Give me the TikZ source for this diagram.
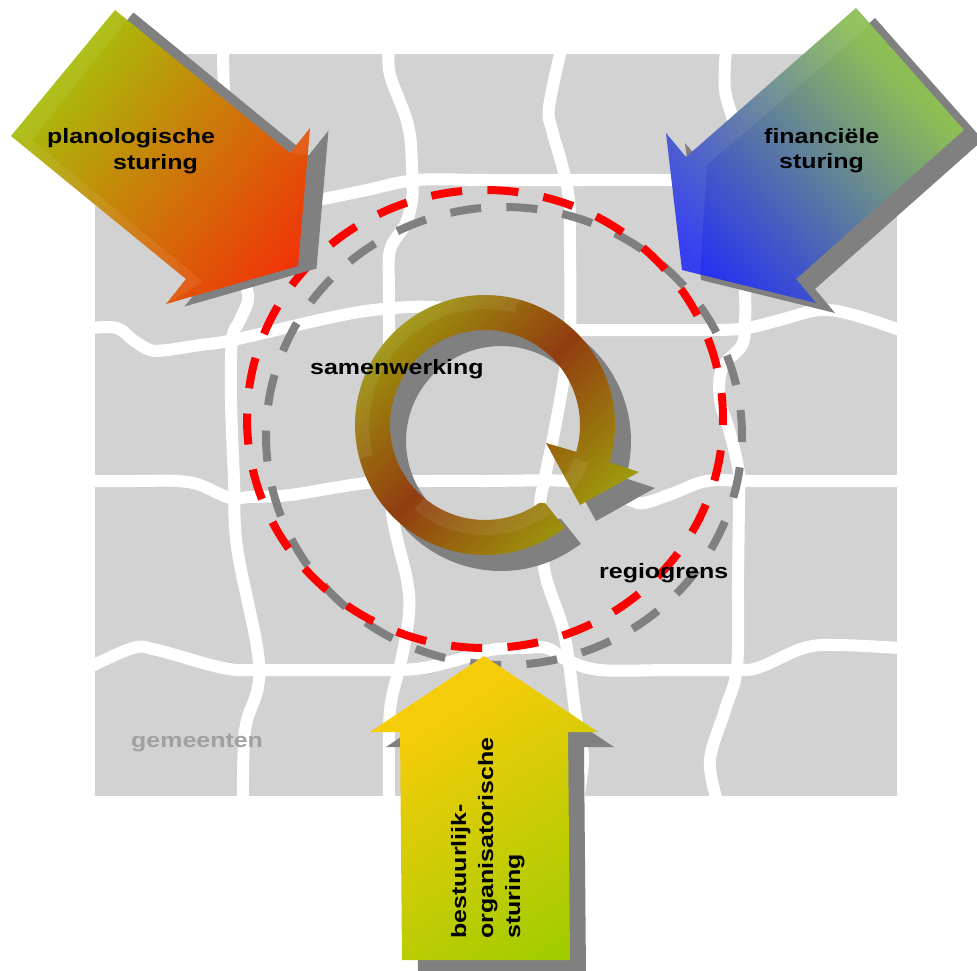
\documentclass[tikz,border=0pt]{standalone}
\usepackage{fontspec}
\setmainfont[FakeStretch=1.2]{Liberation Sans}
\definecolor{cell}{HTML}{D2D2D2}
\definecolor{shadowgray}{HTML}{808080}
\definecolor{labelgray}{HTML}{A0A0A0}
\definecolor{regionred}{HTML}{FF0000}
\definecolor{aOne}{HTML}{A8BE0A}
\definecolor{bOne}{HTML}{F23208}
\definecolor{aTwo}{HTML}{8DBE55}
\definecolor{bTwo}{HTML}{2832F0}
\definecolor{aThree}{HTML}{F5CC08}
\definecolor{bThree}{HTML}{A0CC00}
\definecolor{ringOlive}{HTML}{A0AC0C}
\definecolor{ringRust}{HTML}{923C10}
\pgfdeclareverticalshading{gradOne}{100bp}{color(0bp)=(bOne); color(37.5bp)=(bOne); color(62.5bp)=(aOne); color(100bp)=(aOne)}
\pgfdeclareverticalshading{gradTwo}{100bp}{color(0bp)=(bTwo); color(37.5bp)=(bTwo); color(62.5bp)=(aTwo); color(100bp)=(aTwo)}
\pgfdeclareverticalshading{gradThree}{100bp}{color(0bp)=(bThree); color(37.5bp)=(bThree); color(62.5bp)=(aThree); color(100bp)=(aThree)}
\pgfdeclareverticalshading{gradRing}{100bp}{color(0bp)=(ringOlive); color(37bp)=(ringOlive); color(50bp)=(ringRust); color(63bp)=(ringOlive); color(100bp)=(ringOlive)}
\tikzset{
  road/.style={draw=white,line width=12pt,line join=round},
  region/.style={line width=8pt,dash pattern=on 31pt off 25.4pt,dash phase=25pt},
  shadowshape/.style={fill=shadowgray,draw=none},
  bevel/.style={fill=white,fill opacity=.07,draw=none},
  lab/.style={font=\bfseries\fontsize{20.8}{20.8}\selectfont,inner sep=0pt,anchor=base west,text=black}
}
\def\polyOne{(115,10) -- (290,153) -- (310,128) -- (298,266) -- (166,304) -- (186,279) -- (11,136) -- cycle}
\def\polyTwo{(856,8) -- (964,130) -- (796,279) -- (816,303) -- (682,270) -- (666,133) -- (686,157) -- cycle}
\def\polyThree{(484,656) -- (598,732) -- (568,732) -- (570,960) -- (402,960) -- (400,732) -- (370,732) -- cycle}
\gdef\ringOuter{}
\gdef\ringInner{}
\begin{document}
\begin{tikzpicture}[x=1pt,y=-1pt]
\foreach \a in {55,58,...,376}{
  \pgfmathsetmacro\px{485+130*cos(\a)}
  \pgfmathsetmacro\py{425+130*sin(\a)}
  \xdef\ringOuter{\ringOuter -- (\px,\py)}
}
\foreach \a in {376,373,...,55}{
  \pgfmathsetmacro\px{485+95*cos(\a)}
  \pgfmathsetmacro\py{425+95*sin(\a)}
  \xdef\ringInner{\ringInner -- (\px,\py)}
}
\def\ringPoly{(565,528) \ringOuter -- (609,462) -- (639,472) -- (580,505) -- (546,443) -- (577,452) \ringInner -- (545,503) -- cycle}
\useasboundingbox (0,0) rectangle (977,971);
% map
\fill[cell] (95,54) rectangle (897,796);
% vertical roads
\draw[road] plot[smooth,tension=.6] coordinates {(223,50) (224,90) (228,150) (236,230) (245,280) (248,300) (240,320) (232,340) (231,400) (234,480) (237,547) (257,647) (258,687) (245,730) (243,800)};
\draw[road] plot[smooth,tension=.6] coordinates {(389,50) (390,75) (408,125) (412,167) (412,200) (405,225) (390,250) (389,290) (389,340) (387,430) (392,513) (407,580) (409,613) (402,657) (392,697) (389,730) (389,800)};
\draw[road] plot[smooth,tension=.6] coordinates {(561,50) (549,107) (552,130) (562,165) (569,200) (570,250) (570,330) (564,377) (554,433) (545,477) (540,510) (545,573) (564,633) (575,710) (579,733) (583,760) (578,800)};
\draw[road] plot[smooth,tension=.6] coordinates {(726,50) (725,90) (735,130) (742,200) (745,293) (745,320) (742,345) (722,368) (720,400) (730,433) (739,473) (739,500) (738,580) (737,667) (725,710) (710,760) (717,800)};
% horizontal roads
\draw[road] plot[smooth,tension=.6] coordinates {(280,206) (323,199) (367,190) (417,180) (487,180) (580,180) (667,180) (700,182)};
\draw[road] plot[smooth,tension=.6] coordinates {(90,328) (117,328) (133,340) (150,350) (167,350) (200,345) (233,340) (333,317) (383,309) (433,307) (480,315) (530,327) (574,330) (640,330) (714,330) (747,328) (780,320) (820,310) (854,315) (900,330)};
\draw[road] plot[smooth,tension=.6] coordinates {(90,481) (135,481) (177,481) (200,485) (230,498) (250,497) (290,495) (367,483) (430,481) (487,481) (567,481) (600,490) (630,500) (644,503) (674,493) (707,481) (750,481) (820,481) (900,481)};
\draw[road] plot[smooth,tension=.6] coordinates {(90,667) (133,648) (157,650) (223,668) (257,670) (320,670) (390,670) (423,668) (457,660) (490,650) (523,648) (547,648) (567,660) (600,670) (670,670) (737,670) (760,667) (804,648) (837,645) (900,648)};
% region boundary
\draw[region,shadowgray] (504,436) ellipse [x radius=238,y radius=229];
\draw[region,regionred] (485,419) ellipse [x radius=238,y radius=229];
% cooperation ring
\begin{scope}[shift={(16,16)}]
\fill[shadowshape] \ringPoly;
\end{scope}
\begin{scope}
\clip \ringPoly;
\shade[shading=gradRing,shading angle=-135] (165,105) rectangle (805,745);
\fill[bevel] plot[domain=165:285,samples=50] ({485+130*cos(\x)},{425+130*sin(\x)}) -- plot[domain=285:165,samples=50] ({485+116*cos(\x)},{425+116*sin(\x)}) -- cycle;
\fill[bevel] plot[domain=20:130,samples=50] ({485+95*cos(\x)},{425+95*sin(\x)}) -- plot[domain=130:20,samples=50] ({485+110*cos(\x)},{425+110*sin(\x)}) -- cycle;
\end{scope}
% planologische arrow
\begin{scope}[shift={(18.5,2.5)}]
\fill[shadowshape] \polyOne;
\end{scope}
\begin{scope}
\clip \polyOne;
\shade[shading=gradOne,shading angle=51] (-130,-142.5) rectangle (490,477.5);
\fill[bevel] (115,10) -- (127,20) -- (32,140) -- (203,282) -- (186,279) -- (11,136) -- cycle;
\fill[bevel] (290,153) -- (310,128) -- (307,155) -- cycle;
\fill[bevel] (166,304) -- (186,279) -- (203,282) -- cycle;
\end{scope}
% financiele arrow
\begin{scope}[shift={(19,10)}]
\fill[shadowshape] \polyTwo;
\end{scope}
\begin{scope}
\clip \polyTwo;
\shade[shading=gradTwo,shading angle=-46.5] (524,-106) rectangle (1076,446);
\fill[bevel] (856,8) -- (870,25) -- (707,165) -- (700,275) -- (682,270) -- (666,133) -- (686,157) -- cycle;
\end{scope}
% bestuurlijk arrow
\begin{scope}[shift={(16,15)}]
\fill[shadowshape] \polyThree;
\end{scope}
\begin{scope}
\clip \polyThree;
\shade[shading=gradThree,shading angle=32.8] (224,574) rectangle (760,1110);
\end{scope}
% labels
\node[lab] (planA) at (47,143) {planologische};
\node[lab] (planB) at (113,169) {sturing};
\node[lab] (finA) at (764,143) {financiële};
\node[lab] (finB) at (779,168) {sturing};
\node[lab] (samen) at (310,374) {samenwerking};
\node[lab] (regio) at (599,578) {regiogrens};
\node[lab,text=labelgray] (gem) at (131,747) {gemeenten};
\node[lab,rotate=90] (bestA) at (466,939) {bestuurlijk-};
\node[lab,rotate=90] (bestB) at (493,939) {organisatorische};
\node[lab,rotate=90] (bestC) at (520,939) {sturing};
\end{tikzpicture}
\end{document}
